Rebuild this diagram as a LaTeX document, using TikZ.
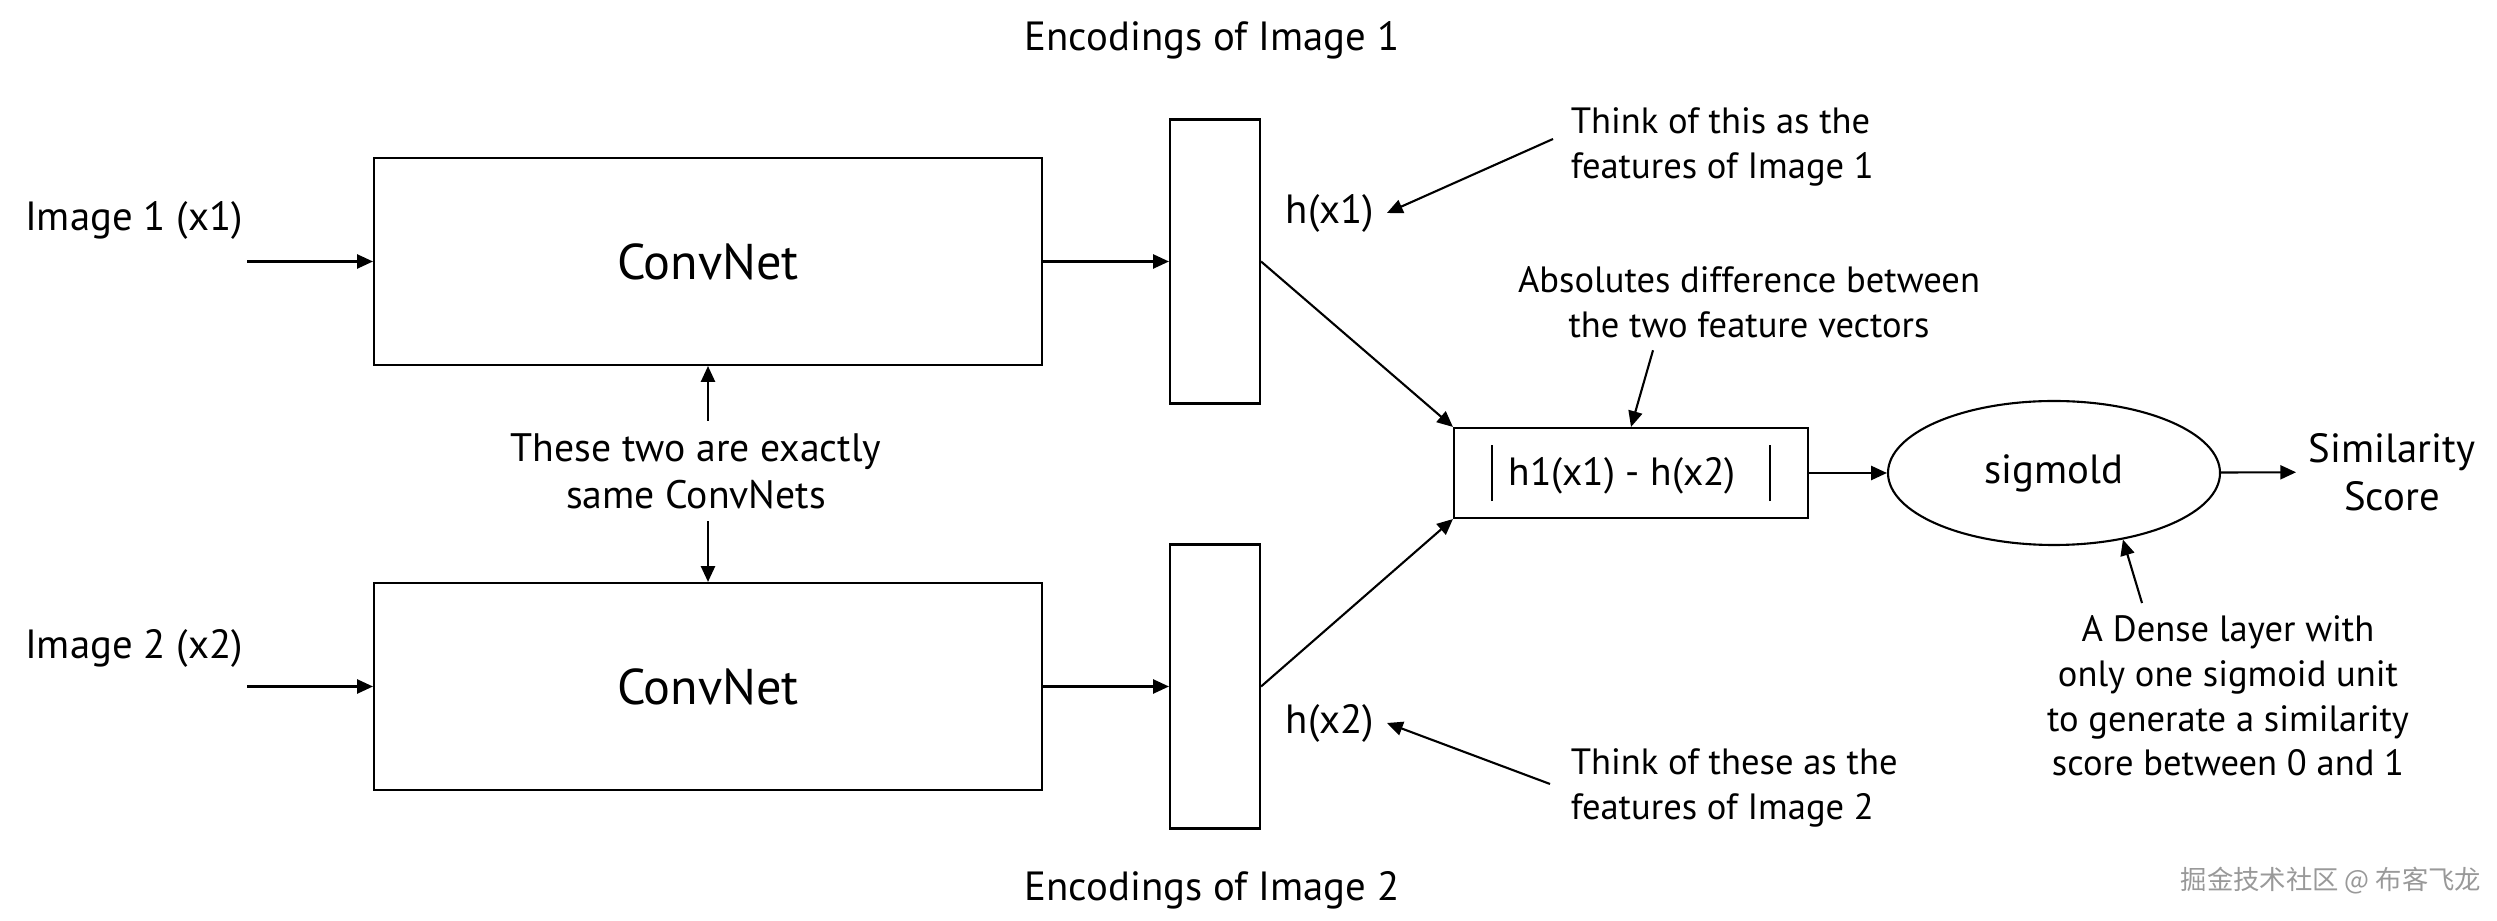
\documentclass[tikz,border=0pt]{standalone}
\usepackage{fontspec}
\setmainfont{PT Sans}
\newfontfamily\cjkfont{Noto Sans CJK SC}
\usetikzlibrary{shapes.geometric, positioning, arrows.meta, calc}

\begin{document}
\begin{tikzpicture}[
    > = {Triangle[length=4.5pt, width=4pt]}, line width=0.6pt,
    net/.style={rectangle, draw, minimum width=6.68cm, minimum height=2.07cm, font=\fontsize{14.3}{17}\selectfont},
    enc/.style={rectangle, draw, minimum width=0.9cm, minimum height=2.84cm},
    lbl/.style={font=\fontsize{11.6}{13.6}\selectfont},
    note/.style={align=center, font=\fontsize{10.4}{12.7}\selectfont}
]
\useasboundingbox (0,0) rectangle (24.97,9.21);

% 1. TWIN CONVNETS
\node[net] (conv1) at (7.08, 6.595) {ConvNet};
\node[net] (conv2) at (7.08, 2.345) {ConvNet};
\node[lbl] (img1) at (1.34, 7.01) {Image 1 (x1)};
\node[lbl] (img2) at (1.34, 2.73) {Image 2 (x2)};
\coordinate (in1) at (2.47, 6.595);
\coordinate (in2) at (2.47, 2.345);
\draw[->] (in1) -- (conv1);
\draw[->] (in2) -- (conv2);

\node[note, font=\fontsize{11.3}{13.3}\selectfont] (same) at (6.96, 4.50) {These two are exactly\\same ConvNets};
\draw[->] (same.north -| conv1.south) -- (conv1.south);
\draw[->] (same.south -| conv2.north) -- (conv2.north);

% 2. ENCODINGS
\node[enc] (enc1) at (12.15, 6.595) {};
\node[enc] (enc2) at (12.15, 2.345) {};
\draw[->] (conv1) -- (enc1);
\draw[->] (conv2) -- (enc2);
\node[lbl] (encl1) at (12.12, 8.81) {Encodings of Image 1};
\node[lbl] (encl2) at (12.12, 0.31) {Encodings of Image 2};
\node[lbl] (hx1) at (13.30, 7.08) {h(x1)};
\node[lbl] (hx2) at (13.30, 1.98) {h(x2)};

\node[note, align=left, anchor=west] (think1) at (15.58, 7.74) {Think of this as the\\features of Image 1};
\node[note, align=left, anchor=west] (think2) at (15.58, 1.33) {Think of these as the\\features of Image 2};
\draw[->] ([shift={(-0.05,0.08)}]think1.west) -- (hx1.east);
\draw[->] ([shift={(-0.08,0.04)}]think2.west) -- (hx2.east);

% 3. DIFFERENCE AND SIGMOID
\node[draw, minimum width=3.54cm, minimum height=0.9cm, font=\fontsize{11.2}{13}\selectfont] (diff) at (16.31, 4.48)
    {\vrule width 0.5pt height 11.5pt depth 4.5pt\hspace{4.5pt}h1(x1) - h(x2)\hspace{9.5pt}\vrule width 0.5pt height 11.5pt depth 4.5pt};
\draw[->] (enc1.east) -- (diff.north west);
\draw[->] (enc2.east) -- (diff.south west);
\node[note] (absn) at (17.49, 6.19) {Absolutes difference between\\the two feature vectors};
\draw[->] ([xshift=-0.96cm]absn.south) -- (diff.north);

\node[ellipse, draw, minimum width=3.32cm, minimum height=1.44cm, lbl] (sig) at (20.54, 4.48) {sigmold};
\draw[->] (diff) -- (sig);
\node[lbl, align=center] (score) at (23.92, 4.49) {Similarity\\Score};
\draw[->] (sig) -- (score);

\node[note] (dense) at (22.28, 2.25) {A Dense layer with\\only one sigmoid unit\\to generate a similarity\\score between 0 and 1};
\draw[->] ([xshift=-0.86cm]dense.north) -- (sig.-44);

\node[text=gray!80, font=\cjkfont\fontsize{7.5}{9}\selectfont] (mark) at (23.31, 0.40) {掘金技术社区 @ 布客飞龙};
\end{tikzpicture}
\end{document}
